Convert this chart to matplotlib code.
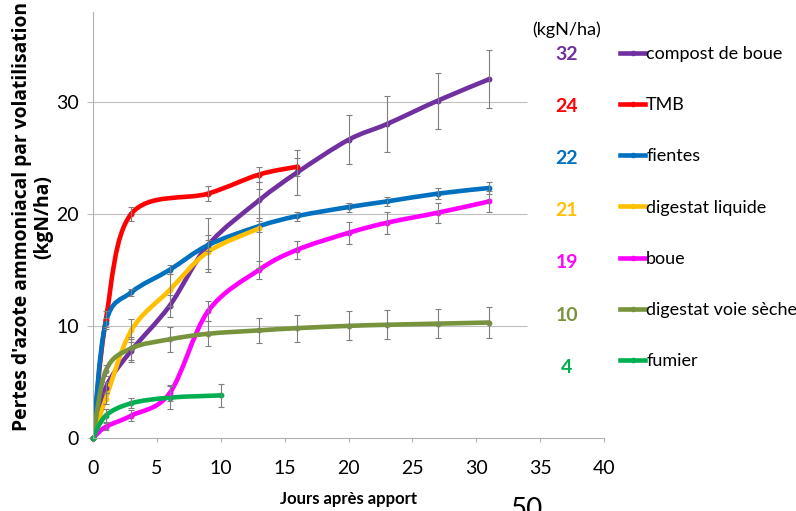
import matplotlib
matplotlib.use("Agg")
import matplotlib.pyplot as plt
import numpy as np
from matplotlib.path import Path
from matplotlib.patches import PathPatch
from matplotlib.lines import Line2D

plt.rcParams['font.family'] = ['Lato', 'DejaVu Sans']

# series (days, kgN/ha, error bar half-width)
names = ["compost de boue", "TMB", "fientes", "digestat liquide", "boue",
         "digestat voie sèche", "fumier"]
colors = ["#7030A0", "#FF0000", "#0070C0", "#FFC000", "#FF00FF", "#77933C", "#00B050"]
totals = ["32", "24", "22", "21", "19", "10", "4"]

compost_x = [0, 1, 3, 6, 9, 13, 16, 20, 23, 27, 31]
compost_y = [0, 4.5, 7.8, 11.8, 17.2, 21.2, 23.7, 26.6, 28.0, 30.1, 32.0]
compost_e = [0, 0.5, 1.0, 1.0, 2.4, 1.6, 2.0, 2.2, 2.5, 2.5, 2.6]

tmb_x = [0, 1, 3, 9, 13, 16]
tmb_y = [0, 10.5, 20.0, 21.8, 23.5, 24.2]
tmb_e = [0, 0.8, 0.65, 0.7, 0.7, 0.8]

fientes_x = [0, 1, 3, 6, 9, 13, 16, 20, 23, 27, 31]
fientes_y = [0, 10.3, 13.0, 15.0, 17.2, 18.9, 19.8, 20.6, 21.1, 21.8, 22.3]
fientes_e = [0, 0.4, 0.3, 0.4, 0.5, 0.5, 0.4, 0.4, 0.4, 0.5, 0.5]

liquide_x = [0, 1, 3, 6, 9, 13]
liquide_y = [0, 3.5, 9.6, 13.2, 16.6, 18.7]
liquide_e = [0, 0.5, 1.0, 1.4, 1.5, 3.5]

boue_x = [0, 1, 3, 6, 9, 13, 16, 20, 23, 27, 31]
boue_y = [0, 1.0, 2.0, 4.0, 11.3, 15.0, 16.8, 18.3, 19.2, 20.1, 21.1]
boue_e = [0, 0.3, 0.5, 0.7, 0.9, 0.8, 0.8, 1.0, 1.0, 0.9, 0.9]

seche_x = [0, 1, 3, 6, 9, 13, 16, 20, 23, 27, 31]
seche_y = [0, 6.0, 8.0, 8.8, 9.3, 9.6, 9.8, 10.0, 10.1, 10.2, 10.3]
seche_e = [0, 0.5, 1.0, 1.1, 1.1, 1.1, 1.2, 1.3, 1.3, 1.3, 1.35]

fumier_x = [0, 1, 3, 6, 10]
fumier_y = [0, 2.0, 3.1, 3.6, 3.8]
fumier_e = [0, 0.6, 0.45, 1.0, 1.0]

series = [(compost_x, compost_y, compost_e), (tmb_x, tmb_y, tmb_e),
          (fientes_x, fientes_y, fientes_e), (liquide_x, liquide_y, liquide_e),
          (boue_x, boue_y, boue_e), (seche_x, seche_y, seche_e),
          (fumier_x, fumier_y, fumier_e)]


def smooth_path(x, y):
    # Excel-style smoothed line: cubic bezier through the points
    p = np.column_stack([x, y]).astype(float)
    verts = [p[0]]
    codes = [Path.MOVETO]
    n = len(p)
    for i in range(n - 1):
        p0 = p[i - 1] if i > 0 else p[i]
        p3 = p[i + 2] if i + 2 < n else p[i + 1]
        c1 = p[i] + (p[i + 1] - p0) / 6
        c2 = p[i + 1] - (p3 - p[i]) / 6
        verts += [c1, c2, p[i + 1]]
        codes += [Path.CURVE4] * 3
    return Path(verts, codes)


fig = plt.figure(figsize=(7.96, 5.11), dpi=100)
ax = fig.add_axes([93 / 796, 73 / 511, 511 / 796, 426 / 511])

for (x, y, e), c in zip(series, colors):
    ax.add_patch(PathPatch(smooth_path(x, y), facecolor='none', edgecolor=c,
                           lw=3.3, capstyle='round', zorder=2))
    ax.plot(x, y, 'o', ms=3.2, color=c, zorder=2.5, clip_on=False)
    xa, ya, ea = np.array(x), np.array(y), np.array(e)
    m = ea > 0
    ax.errorbar(xa[m], ya[m], yerr=ea[m], fmt='none', ecolor='#7f7f7f',
                elinewidth=0.8, capsize=2.5, capthick=0.8, zorder=3)

ax.hlines([10, 20, 30], 0, 34, color='#c0c0c0', lw=0.8, zorder=1)
ax.set_xlim(0, 40)
ax.set_ylim(0, 38)
ax.set_xticks(range(0, 41, 5))
ax.set_yticks([0, 10, 20, 30])
for s in ['top', 'right']:
    ax.spines[s].set_visible(False)
for s in ['left', 'bottom']:
    ax.spines[s].set_color('#b0b0b0')
    ax.spines[s].set_linewidth(0.8)
ax.tick_params(axis='x', length=3, color='#b0b0b0', labelsize=14, pad=13)
ax.tick_params(axis='y', length=4, color='#c0c0c0', labelsize=14, pad=6)

ax.set_xlabel("Jours après apport", fontsize=12, fontweight='bold', labelpad=10)
ax.set_ylabel("Pertes d'azote ammoniacal par volatilisation\n(kgN/ha)",
              fontsize=13.9, fontweight='bold', family=['Open Sans', 'DejaVu Sans'],
              linespacing=1.05)
ax.yaxis.set_label_coords(-0.078, 0.519)

# totals column
fig.text(567 / 796, 1 - 30 / 511, "(kgN/ha)", ha='center', va='center', fontsize=13)
for i, (t, c) in enumerate(zip(totals, colors)):
    fig.text(567 / 796, 1 - (54 + i * 52.2) / 511, t, ha='center', va='center',
             fontsize=14, fontweight='bold', color=c)

handles = [Line2D([], [], color=c, lw=3.3, marker='o', ms=3) for c in colors]
fig.legend(handles, names, loc='upper left', bbox_to_anchor=(620 / 796, 1 - 46 / 511),
           frameon=False, fontsize=13, handlelength=1.4, handletextpad=0.05,
           labelspacing=1.95, borderpad=0, borderaxespad=0)

fig.text(527 / 796, 1 - 497 / 511, "50", ha='center', va='top', fontsize=20)

fig.savefig("out.png", dpi=100)
